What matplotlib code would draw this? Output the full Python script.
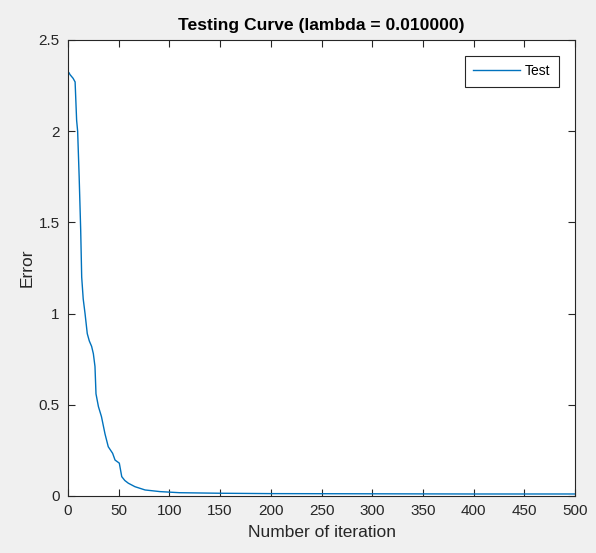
import matplotlib.pyplot as plt
import numpy as np

plt.rcParams['font.family'] = ['Liberation Sans', 'DejaVu Sans']

# values
iteration = [1, 2, 5, 7, 8.5, 9.5, 11, 12.5, 13.5, 15, 16.8, 19, 21, 23.3, 25, 26.6,
             27.6, 30, 33, 36.5, 39.7, 44, 46.4, 50.6, 53, 56, 59.5, 66, 76, 90.7,
             110, 150, 200, 300, 400, 500]
error = [2.32, 2.31, 2.29, 2.27, 2.06, 2.0, 1.75, 1.46, 1.20, 1.08, 1.0, 0.89, 0.85,
         0.82, 0.78, 0.71, 0.56, 0.49, 0.435, 0.34, 0.27, 0.234, 0.197, 0.18, 0.106,
         0.085, 0.07, 0.051, 0.033, 0.024, 0.018, 0.015, 0.013, 0.012, 0.011, 0.011]

xticks = np.arange(0, 501, 50)
yticks = [0, 0.5, 1, 1.5, 2, 2.5]

bg = '#f0f0f0'
fig = plt.figure(figsize=(5.96, 5.53), dpi=100, facecolor=bg)
ax = fig.add_axes([0.1141, 0.1031, 0.8507, 0.8246])

ax.plot(iteration, error, color='#0072BD', linewidth=1.0, label='Test')

ax.set_xlim(0, 500)
ax.set_ylim(0, 2.5)
ax.set_xticks(xticks)
ax.set_yticks(yticks)
ax.set_yticklabels(['0', '0.5', '1', '1.5', '2', '2.5'])
ax.tick_params(direction='in', top=True, right=True, length=5, width=0.8,
               labelsize=11, colors='#262626', pad=6)
for s in ax.spines.values():
    s.set_color('#262626')
    s.set_linewidth(0.8)

ax.set_xlabel('Number of iteration', fontsize=12.5, color='#262626', labelpad=5)
ax.set_ylabel('Error', fontsize=12.5, color='#262626', labelpad=3)
ax.set_title('Testing Curve (lambda = 0.010000)', fontsize=12.6, fontweight='bold',
             color='black', pad=7)

leg = ax.legend(loc='upper right', fontsize=10, fancybox=False, framealpha=1,
                edgecolor='#262626', handlelength=3.4, handletextpad=0.35,
                borderpad=0.6, borderaxespad=1.15)
leg.get_frame().set_linewidth(0.8)

plt.savefig('out.png', dpi=100, facecolor=bg)
